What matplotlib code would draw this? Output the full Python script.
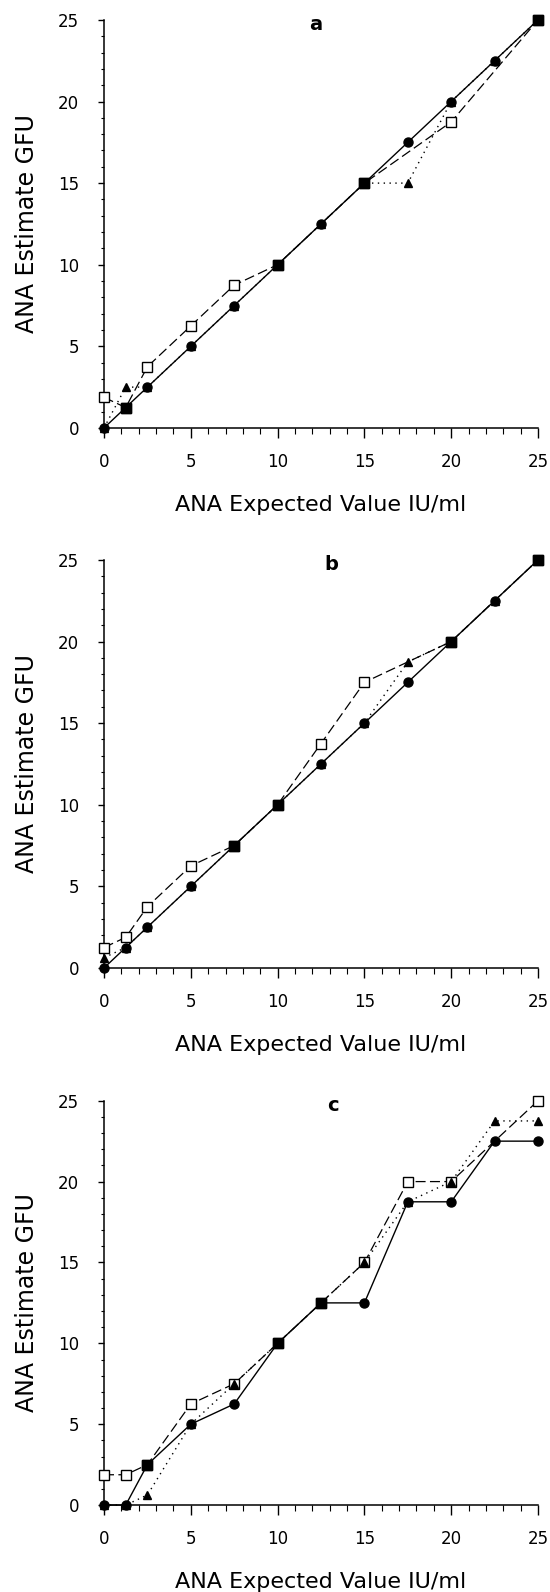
import numpy as np
import matplotlib
matplotlib.use("Agg")
import matplotlib.pyplot as plt

plt.rcParams['font.family'] = ['DejaVu Sans']

# valores (x = valor esperado, y = estimado)
x_all = [0, 1.25, 2.5, 5, 7.5, 10, 12.5, 15, 17.5, 20, 22.5, 25]

# panel a
a_circ_y = [0, 1.25, 2.5, 5, 7.5, 10, 12.5, 15, 17.5, 20, 22.5, 25]
a_sq_x = [0, 1.25, 2.5, 5, 7.5, 10, 15, 20, 25]
a_sq_y = [1.875, 1.25, 3.75, 6.25, 8.75, 10, 15, 18.75, 25]
a_tri_y = [0, 2.5, 2.5, 5, 7.5, 10, 12.5, 15, 15, 20, 22.5, 25]

# panel b
b_circ_y = [0, 1.25, 2.5, 5, 7.5, 10, 12.5, 15, 17.5, 20, 22.5, 25]
b_sq_x = [0, 1.25, 2.5, 5, 7.5, 10, 12.5, 15, 20, 25]
b_sq_y = [1.25, 1.875, 3.75, 6.25, 7.5, 10, 13.75, 17.5, 20, 25]
b_tri_y = [0.625, 1.25, 2.5, 5, 7.5, 10, 12.5, 15, 18.75, 20, 22.5, 25]

# panel c
c_circ_y = [0, 0, 2.5, 5, 6.25, 10, 12.5, 12.5, 18.75, 18.75, 22.5, 22.5]
c_sq_x = [0, 1.25, 2.5, 5, 7.5, 10, 12.5, 15, 17.5, 20, 25]
c_sq_y = [1.875, 1.875, 2.5, 6.25, 7.5, 10, 12.5, 15, 20, 20, 25]
c_tri_y = [0, 0, 0.625, 5, 7.5, 10, 12.5, 15, 18.75, 20, 23.75, 23.75]

ticks = [0, 5, 10, 15, 20, 25]

fig = plt.figure(figsize=(5.5, 15.92), dpi=100)


def panel(rect, circ_y, sq_x, sq_y, tri_y, letter, letter_x):
    ax = fig.add_axes(rect)
    # lineas primero, marcadores encima
    ax.plot(x_all, tri_y, color='black', lw=1.0, dashes=(1, 3.2),
            zorder=2, clip_on=False)
    ax.plot(sq_x, sq_y, color='black', lw=0.9, dashes=(8, 3.5),
            zorder=2, clip_on=False)
    ax.plot(x_all, circ_y, color='black', lw=1.0, ls='-', zorder=2,
            clip_on=False)
    ax.plot(sq_x, sq_y, ls='none', marker='s', ms=7.5, mfc='white',
            mec='black', mew=1.0, clip_on=False, zorder=4)
    ax.plot(x_all, tri_y, ls='none', marker='^', ms=5.5, color='black',
            clip_on=False, zorder=5)
    ax.plot(x_all, circ_y, ls='none', marker='o', ms=6.5, color='black',
            clip_on=False, zorder=6)
    # puntos donde coinciden los metodos -> cuadrado lleno
    cx = np.array(x_all)
    cy = np.array(circ_y)
    same_x, same_y = [], []
    for xs, ys in zip(sq_x, sq_y):
        i = np.where(cx == xs)[0]
        if len(i) and cy[i[0]] == ys:
            same_x.append(xs)
            same_y.append(ys)
    ax.plot(same_x, same_y, ls='none', marker='s', ms=7.5, color='black',
            clip_on=False, zorder=7)

    ax.set_xlim(0, 25)
    ax.set_ylim(0, 25)
    ax.set_xticks(ticks)
    ax.set_yticks(ticks)
    ax.set_xticks(np.arange(0, 26, 1), minor=True)
    ax.set_yticks(np.arange(0, 26, 1), minor=True)
    ax.spines['top'].set_visible(False)
    ax.spines['right'].set_visible(False)
    ax.spines['left'].set_linewidth(1.1)
    ax.spines['bottom'].set_linewidth(1.1)
    ax.tick_params(axis='x', which='major', direction='out', length=7,
                   width=1.0, labelsize=12, pad=11)
    ax.tick_params(axis='x', which='minor', direction='out', length=4.5,
                   width=0.8)
    ax.tick_params(axis='y', which='major', direction='out', length=4,
                   width=1.0, labelsize=12, pad=14)
    ax.tick_params(axis='y', which='minor', direction='out', length=2.5,
                   width=0.8)
    ax.text(-0.178, 0.5, 'ANA Estimate GFU', transform=ax.transAxes,
            rotation=90, ha='center', va='center', fontsize=17)
    ax.text(0.5, -0.19, 'ANA Expected Value IU/ml', transform=ax.transAxes,
            ha='center', va='center', fontsize=16)
    ax.text(letter_x, 24.7, letter, ha='center', va='center',
            fontsize=14, fontweight='bold')
    return ax


panel([0.1891, 0.7312, 0.7891, 0.2563], a_circ_y, a_sq_x, a_sq_y, a_tri_y,
      'a', 12.2)
panel([0.1891, 0.3920, 0.7891, 0.2563], b_circ_y, b_sq_x, b_sq_y, b_tri_y,
      'b', 13.1)
panel([0.1891, 0.0546, 0.7891, 0.2540], c_circ_y, c_sq_x, c_sq_y, c_tri_y,
      'c', 13.2)

fig.savefig('out.png', dpi=100)
